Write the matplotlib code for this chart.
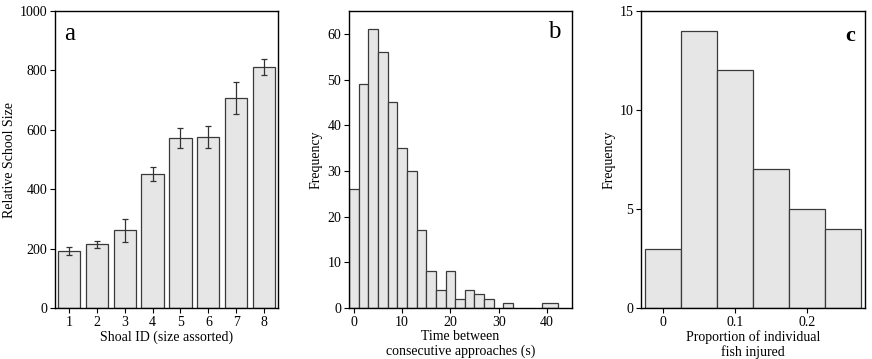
import matplotlib
matplotlib.use("Agg")
import matplotlib.pyplot as plt
import numpy as np

plt.rcParams['font.family'] = ['Liberation Serif', 'DejaVu Serif']

# Panel a
shoal_ids = [1, 2, 3, 4, 5, 6, 7, 8]
school_size = [193, 214, 262, 451, 572, 577, 706, 810]
err_low = [179, 203, 222, 427, 538, 540, 652, 783]
err_high = [207, 227, 301, 474, 605, 613, 762, 837]

# Panel b
b_centers = [0, 2, 4, 6, 8, 10, 12, 14, 16, 18, 20, 22, 24, 26, 28, 32]
b_counts = [26, 49, 61, 56, 45, 35, 30, 17, 8, 4, 8, 2, 4, 3, 2, 1]
b_last_left, b_last_right, b_last_count = 39.0, 42.2, 1

# Panel c
c_centers = [0.0, 0.05, 0.10, 0.15, 0.20, 0.25]
c_counts = [3, 14, 12, 7, 5, 4]

fill = '#e6e6e6'
edge = '#3a3a3a'
W, H = 872, 359
fig = plt.figure(figsize=(W/100, H/100), dpi=100)

def mkax(l, r, t, b):
    return fig.add_axes([l/W, 1-b/H, (r-l)/W, (b-t)/H])

axa = mkax(55, 278, 11, 308)
axb = mkax(349, 572, 11, 308)
axc = mkax(641, 865, 11, 308)

fs = 10
for ax in (axa, axb, axc):
    ax.tick_params(axis='both', which='both', direction='out', length=3.5, width=0.8,
                   labelsize=fs, top=False, right=False, pad=2)
    for s in ax.spines.values():
        s.set_linewidth(1.0)
        s.set_color('black')

# a
yerr = [np.array(school_size) - np.array(err_low), np.array(err_high) - np.array(school_size)]
axa.bar(shoal_ids, school_size, width=0.8, color=fill, edgecolor=edge, linewidth=0.9,
        yerr=yerr, error_kw=dict(ecolor='#333333', elinewidth=0.9, capsize=2.2, capthick=0.9))
axa.set_xlim(0.5, 8.5)
axa.set_ylim(0, 1000)
axa.set_xticks(shoal_ids)
axa.set_yticks([0, 200, 400, 600, 800, 1000])
axa.set_xlabel('Shoal ID (size assorted)', fontsize=fs, labelpad=1)
axa.set_ylabel('Relative School Size', fontsize=fs)
axa.yaxis.set_label_coords(-0.175, 0.5)
axa.text(0.04, 0.96, 'a', transform=axa.transAxes, fontsize=18, va='top', ha='left')

# b
axb.bar(b_centers, b_counts, width=2, color=fill, edgecolor=edge, linewidth=0.9)
axb.bar([b_last_left], [b_last_count], width=b_last_right - b_last_left, align='edge',
        color=fill, edgecolor=edge, linewidth=0.9)
axb.set_xlim(-1, 45.2)
axb.set_ylim(0, 65)
axb.set_xticks([0, 10, 20, 30, 40])
axb.set_yticks([0, 10, 20, 30, 40, 50, 60])
axb.set_xlabel('Time between\nconsecutive approaches (s)', fontsize=fs, labelpad=1, linespacing=1.1)
axb.set_ylabel('Frequency', fontsize=fs)
axb.yaxis.set_label_coords(-0.117, 0.5)
axb.text(0.95, 0.965, 'b', transform=axb.transAxes, fontsize=18, va='top', ha='right')

# c
axc.bar(c_centers, c_counts, width=0.05, color=fill, edgecolor=edge, linewidth=0.9)
axc.set_xlim(-0.031, 0.28)
axc.set_ylim(0, 15)
axc.set_xticks([0, 0.1, 0.2])
axc.set_xticklabels(['0', '0.1', '0.2'])
axc.set_yticks([0, 5, 10, 15])
axc.set_xlabel('Proportion of individual\nfish injured', fontsize=fs, labelpad=1, linespacing=1.1)
axc.set_ylabel('Frequency', fontsize=fs)
axc.yaxis.set_label_coords(-0.112, 0.5)
axc.text(0.955, 0.95, 'c', transform=axc.transAxes, fontsize=16, fontweight='bold',
         va='top', ha='right')

fig.savefig('out.png', dpi=100)
